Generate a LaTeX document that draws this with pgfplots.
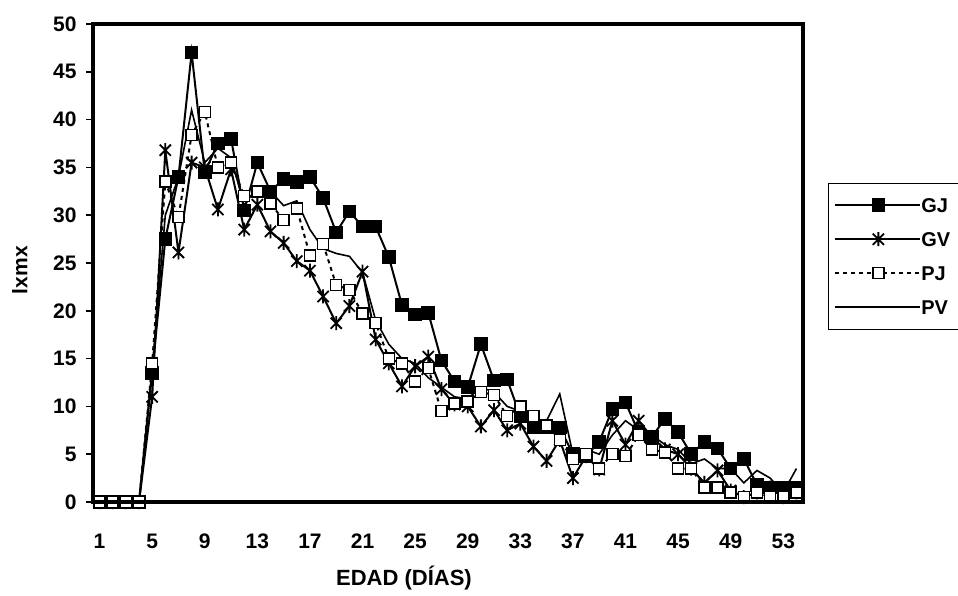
\documentclass[border=0pt]{standalone}
\usepackage{fontspec}
\setmainfont{Liberation Sans}
\usepackage{pgfplots}
\pgfplotsset{compat=1.18}
\pgfdeclareplotmark{xast}{%
  \pgfpathmoveto{\pgfqpoint{-0.8\pgfplotmarksize}{-0.8\pgfplotmarksize}}%
  \pgfpathlineto{\pgfqpoint{0.8\pgfplotmarksize}{0.8\pgfplotmarksize}}%
  \pgfpathmoveto{\pgfqpoint{-0.8\pgfplotmarksize}{0.8\pgfplotmarksize}}%
  \pgfpathlineto{\pgfqpoint{0.8\pgfplotmarksize}{-0.8\pgfplotmarksize}}%
  \pgfpathmoveto{\pgfqpoint{0pt}{-\pgfplotmarksize}}%
  \pgfpathlineto{\pgfqpoint{0pt}{\pgfplotmarksize}}%
  \pgfusepathqstroke}
\begin{document}
\begin{tikzpicture}
\path[use as bounding box] (0,0) rectangle (958pt,595pt);
\begin{axis}[
  at={(93pt,93pt)}, anchor=south west,
  scale only axis, width=710pt, height=478pt,
  xmin=0.5, xmax=54.5, ymin=0, ymax=50,
  xtick={1,5,...,53},
  ytick={0,5,...,50},
  major tick length=7pt,
  xtick style={draw=none},
  extra x ticks={0.5,1.5,...,54.5},
  extra x tick labels={},
  extra x tick style={tick style={line width=1pt, black}},
  tick align=outside,
  tick pos=left,
  ytick style={line width=1.5pt, black},
  /pgf/number format/assume math mode=true,
  tick label style={font=\bfseries\fontsize{21}{25}\selectfont},
  xticklabel style={anchor=north, text height=15pt, text depth=0pt, yshift=-21pt},
  yticklabel style={xshift=-6pt},
  xlabel={EDAD (DÍAS)},
  ylabel={lxmx},
  xlabel style={font=\bfseries\fontsize{22}{26}\selectfont, at={(axis description cs:0.438,-0.159)}, anchor=center},
  ylabel style={font=\bfseries\fontsize{21}{25}\selectfont, at={(axis description cs:-0.103,0.485)}, anchor=center},
  legend style={at={(axis description cs:1.035,0.668)}, anchor=north west,
    font=\bfseries\fontsize{20}{24}\selectfont, draw=black, line width=1pt,
    inner xsep=6pt, inner ysep=15pt, row sep=20pt,
    nodes={inner sep=0pt, text height=14pt, text depth=0pt, text width=40pt}},
  legend cell align=left,
  legend image code/.code={\draw[mark repeat=2,mark phase=2,#1] plot coordinates {(0pt,0pt) (43pt,0pt) (85pt,0pt)};},
  every axis plot/.append style={line width=2pt, black},
  clip=false,
  after end axis/.code={\draw[line width=3.5pt, line cap=rect] (rel axis cs:0,0) rectangle (rel axis cs:1,1);},
]
\addplot[mark=square*, mark size=6.3pt, mark options={solid, fill=black, line width=1pt}] coordinates {
(1,0) (2,0) (3,0) (4,0) (5,13.5) (6,27.5) (7,34) (8,47) (9,34.5) (10,37.5) (11,38) (12,30.5) (13,35.5) (14,32.5) (15,33.8) (16,33.5) (17,34) (18,31.8) (19,28.2) (20,30.4) (21,28.8) (22,28.8) (23,25.6) (24,20.6) (25,19.6) (26,19.8) (27,14.8) (28,12.6) (29,12) (30,16.5) (31,12.7) (32,12.8) (33,9) (34,7.8) (35,7.8) (36,7.8) (37,5) (38,4.8) (39,6.3) (40,9.7) (41,10.4) (42,7.3) (43,6.8) (44,8.7) (45,7.3) (46,5) (47,6.3) (48,5.6) (49,3.5) (50,4.5) (51,1.8) (52,1.5) (53,1.5) (54,1.5)
};
\addlegendentry{GJ}
\addplot[mark=xast, mark size=7pt, mark options={solid, line width=1.8pt}] coordinates {
(1,0) (2,0) (3,0) (4,0) (5,11) (6,36.8) (7,26.1) (8,35.5) (9,35) (10,30.6) (11,34.8) (12,28.5) (13,31.1) (14,28.3) (15,27.1) (16,25.2) (17,24.2) (18,21.5) (19,18.7) (20,20.5) (21,24.1) (22,17) (23,14.5) (24,12.1) (25,14.2) (26,15.2) (27,11.8) (28,10.2) (29,10) (30,7.9) (31,9.6) (32,7.5) (33,8.2) (34,5.8) (35,4.3) (36,6.5) (37,2.5) (38,4.8) (39,3.4) (40,8.5) (41,6) (42,8.5) (43,6.8) (44,5.5) (45,5) (46,3.5) (47,2) (48,3.3) (49,1.2) (50,0.5) (51,1) (52,1.5) (53,0.5) (54,1)
};
\addlegendentry{GV}
\addplot[dash pattern=on 4pt off 4pt, mark=square*, mark size=5.5pt, mark options={solid, fill=white, line width=1.5pt}] coordinates {
(1,0) (2,0) (3,0) (4,0) (5,14.5) (6,33.5) (7,29.8) (8,38.4) (9,40.8) (10,35) (11,35.5) (12,32) (13,32.5) (14,31.2) (15,29.5) (16,30.7) (17,25.8) (18,27) (19,22.7) (20,22.2) (21,19.7) (22,18.7) (23,15) (24,14.5) (25,12.6) (26,14) (27,9.5) (28,10.3) (29,10.5) (30,11.5) (31,11.2) (32,9) (33,10) (34,9) (35,8) (36,6.5) (37,4.5) (38,5) (39,3.5) (40,5) (41,4.8) (42,7) (43,5.5) (44,5.2) (45,3.5) (46,3.5) (47,1.5) (48,1.5) (49,1) (50,0.5) (51,1) (52,0.5) (53,0.5) (54,1)
};
\addlegendentry{PJ}
\addplot[mark=none, line width=1.6pt] coordinates {
(1,0) (2,0) (3,0) (4,0) (5,14) (6,30) (7,34) (8,41) (9,35.5) (10,37) (11,36) (12,31) (13,33) (14,32.5) (15,31) (16,31.5) (17,28.5) (18,26.5) (19,26) (20,25.7) (21,24) (22,19) (23,16.5) (24,15) (25,14.5) (26,13) (27,12) (28,11) (29,10.8) (30,12) (31,11.5) (32,10) (33,9.5) (34,8) (35,8.5) (36,11.3) (37,5) (38,5.5) (39,5) (40,7) (41,8.5) (42,7.5) (43,7) (44,6) (45,5.5) (46,4) (47,4.5) (48,3.5) (49,3.5) (50,2) (51,3.3) (52,2.5) (53,1) (54,3.5)
};
\addlegendentry{PV}
\end{axis}
\end{tikzpicture}
\end{document}
